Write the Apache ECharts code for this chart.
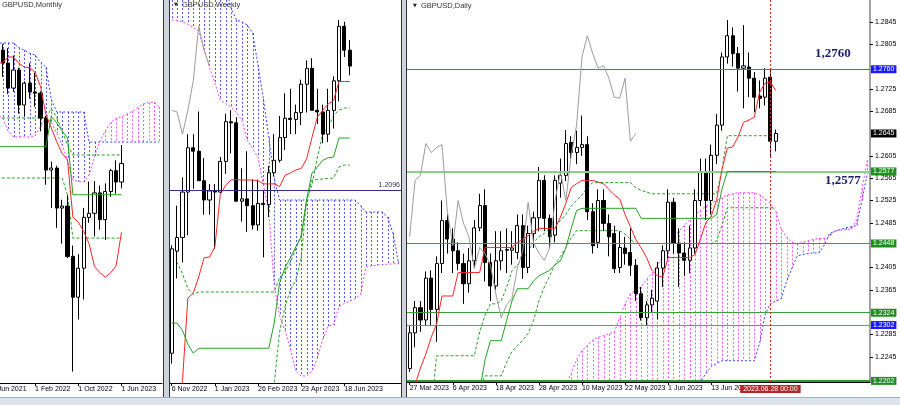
<!DOCTYPE html>
<html><head><meta charset="utf-8">
<script src="https://cdn.jsdelivr.net/npm/echarts@6/dist/echarts.min.js"></script>
<style>html,body{margin:0;padding:0;background:#fff;overflow:hidden}#c{width:900px;height:405px}</style>
</head><body><div id="c"></div>
<script>
// ---------------- MONTHLY ----------------
const mCat = ['2021-06','2021-07','2021-08','2021-09','2021-10','2021-11','2021-12','2022-01','2022-02','2022-03','2022-04','2022-05','2022-06','2022-07','2022-08','2022-09','2022-10','2022-11','2022-12','2023-01','2023-02','2023-03','2023-04','2023-05','2023-06','2023-07','2023-08','2023-09','2023-10','2023-11','2023-12','2024-01'];
const mTickLabels = {0:'1 Jun 2021', 8:'1 Feb 2022', 16:'1 Oct 2022', 24:'1 Jun 2023'};
const mOHLC = [
 [1.4150,1.3830,1.3785,1.4250],[1.3830,1.3900,1.3570,1.3985],[1.3895,1.3752,1.3600,1.3960],[1.3752,1.3476,1.3410,1.3915],
 [1.3476,1.3675,1.3435,1.3835],[1.3675,1.3289,1.3195,1.3700],[1.3289,1.3530,1.3160,1.3550],[1.3530,1.3432,1.3360,1.3750],
 [1.3432,1.3420,1.3270,1.3645],[1.3420,1.3146,1.3000,1.3440],[1.3146,1.2572,1.2410,1.3170],[1.2572,1.2594,1.2155,1.2665],
 [1.2594,1.2153,1.1935,1.2620],[1.2153,1.2175,1.1760,1.2245],[1.2175,1.1620,1.1600,1.2295],[1.1620,1.1170,1.0350,1.1740],
 [1.1170,1.1490,1.0925,1.1645],[1.1490,1.2050,1.1145,1.2155],[1.2050,1.2095,1.1990,1.2445],[1.2095,1.2320,1.1840,1.2450],
 [1.2320,1.2025,1.1915,1.2400],[1.2025,1.2335,1.1800,1.2425],[1.2335,1.2565,1.2275,1.2585],[1.2565,1.2440,1.2310,1.2680],
 [1.2440,1.2645,1.2370,1.2848]];
const mTenkan = [1.3720,1.3740,1.3760,1.3818,1.3818,1.3750,1.3708,1.3700,1.3650,1.3493,1.3185,1.3035,1.2885,1.2755,1.2683,1.2050,1.1998,1.1895,1.1760,1.1508,1.1440,1.1390,1.1440,1.1515,1.1887];
const mKijun = [1.2830,1.2830,1.2830,1.2830,1.2830,1.2830,1.2830,1.2830,1.2830,1.2830,1.2830,1.3163,1.3093,1.3005,1.2925,1.2300,1.2300,1.2300,1.2300,1.2300,1.2300,1.2300,1.2300,1.2300,1.2300];
const mSpanA = [1.3200,1.3180,1.3146,1.3000,1.2936,1.2936,1.2936,1.2936,1.2950,1.3050,1.3146,1.3100,1.2980,1.2848,1.2683,1.2462,1.2445,1.2440,1.2520,1.2720,1.2890,1.3000,1.3100,1.3140,1.3160,1.3190,1.3220,1.3260,1.3300,1.3315,1.3322,1.3267];
const mSpanB = [1.3973,1.3973,1.3973,1.3973,1.3973,1.3920,1.3895,1.3860,1.3840,1.3760,1.3708,1.3350,1.3212,1.3212,1.3212,1.3212,1.3212,1.3212,1.2881,1.2881,1.2881,1.2881,1.2881,1.2881,1.2881,1.2881,1.2881,1.2881,1.2881,1.2881,1.2881,1.2881];
const mDash1 = [1.3146,1.3146,1.3146,1.3146,1.3146,1.3146,1.3146,1.3146,1.3146,1.3146,1.3146,1.3250,1.3150,1.3000,1.2850,1.2738,1.2738,1.2738,1.2738,1.2738,1.2738,1.2738,1.2738,1.2738,1.2738];
const mDash2 = [1.2484,1.2484,1.2484,1.2484,1.2484,1.2484,1.2484,1.2484,1.2484,1.2484,1.2484,1.2484,1.2484,1.2484,1.2300,1.1822,1.1822,1.1822,1.1822,1.1822,1.1822,1.1822,1.1822,1.1822,1.1822];

// ---------------- WEEKLY ----------------
const wCat = ['2022-11-06','2022-11-13','2022-11-20','2022-11-27','2022-12-04','2022-12-11','2022-12-18','2022-12-25','2023-01-01','2023-01-08','2023-01-15','2023-01-22','2023-01-29','2023-02-05','2023-02-12','2023-02-19','2023-02-26','2023-03-05','2023-03-12','2023-03-19','2023-03-26','2023-04-02','2023-04-09','2023-04-16','2023-04-23','2023-04-30','2023-05-07','2023-05-14','2023-05-21','2023-05-28','2023-06-04','2023-06-11','2023-06-18','2023-06-25','2023-07-02','2023-07-09','2023-07-16','2023-07-23','2023-07-30','2023-08-06','2023-08-13','2023-08-20','2023-08-27'];
const wTickLabels = {0:'6 Nov 2022', 8:'1 Jan 2023', 16:'26 Feb 2023', 24:'23 Apr 2023', 32:'18 Jun 2023'};
const wOHLC = [
 [1.1380,1.1840,1.1335,1.1855],[1.1830,1.1890,1.1710,1.2030],[1.1890,1.2090,1.1780,1.2155],[1.2090,1.2285,1.1900,1.2345],
 [1.2285,1.2270,1.2105,1.2345],[1.2270,1.2140,1.2140,1.2445],[1.2140,1.2055,1.1990,1.2240],[1.2055,1.2095,1.1990,1.2125],
 [1.2095,1.2090,1.1840,1.2125],[1.2090,1.2225,1.2085,1.2245],[1.2225,1.2400,1.2170,1.2435],[1.2400,1.2395,1.2260,1.2450],
 [1.2395,1.2050,1.2050,1.2420],[1.2050,1.2060,1.1960,1.2195],[1.2060,1.2030,1.1915,1.2270],[1.2030,1.1945,1.1925,1.2145],
 [1.1945,1.2040,1.1920,1.2145],[1.2040,1.2035,1.1802,1.2095],[1.2035,1.2175,1.1980,1.2205],[1.2175,1.2230,1.2160,1.2345],
 [1.2230,1.2330,1.2220,1.2425],[1.2330,1.2415,1.2275,1.2525],[1.2415,1.2410,1.2345,1.2545],[1.2410,1.2440,1.2345,1.2475],
 [1.2440,1.2565,1.2385,1.2585],[1.2565,1.2635,1.2440,1.2670],[1.2635,1.2450,1.2450,1.2680],[1.2450,1.2443,1.2390,1.2545],
 [1.2443,1.2345,1.2305,1.2475],[1.2345,1.2450,1.2310,1.2545],[1.2450,1.2580,1.2370,1.2600],[1.2580,1.2820,1.2490,1.2848],
 [1.2820,1.2715,1.2685,1.2840],[1.2715,1.2645,1.2604,1.2760]];
const wTenkan = [null,1.1000,1.1260,1.1623,1.1645,1.1716,1.1800,1.1804,1.1848,1.2078,1.2120,1.2143,1.2145,1.2143,1.2143,1.2143,1.2140,1.2126,1.2126,1.2126,1.2114,1.2164,1.2174,1.2187,1.2194,1.2236,1.2330,1.2420,1.2450,1.2478,1.2493,1.2577,1.2577,1.2577];
const wKijun = [1.1513,1.1513,1.1480,1.1420,1.1380,1.1402,1.1402,1.1402,1.1402,1.1402,1.1402,1.1402,1.1402,1.1402,1.1402,1.1402,1.1402,1.1402,1.1402,1.1513,1.1691,1.1757,1.1800,1.1848,1.1892,1.2055,1.2174,1.2200,1.2230,1.2241,1.2244,1.2328,1.2328,1.2328];
const wChikou = [1.2450,1.2443,1.2345,1.2450,1.2580,1.2820,1.2715,1.2645];
const wSpanA = [1.2848,1.2845,1.2840,1.2830,1.2815,1.2800,1.2720,1.2640,1.2570,1.2496,1.2480,1.2465,1.2440,1.2407,1.2320,1.2280,1.2244,1.2120,1.2000,1.1680,1.1545,1.1480,1.1400,1.1300,1.1280,1.1280,1.1300,1.1360,1.1440,1.1500,1.1505,1.1585,1.1600,1.1610,1.1620,1.1640,1.1760,1.1765,1.1768,1.1770,1.1772,1.1774,1.1774];
const wSpanB = [1.3000,1.3000,1.3000,1.3000,1.3000,1.3000,1.3000,1.3000,1.3000,1.3000,1.3000,1.2900,1.2848,1.2840,1.2826,1.2790,1.2650,1.2500,1.2330,1.2150,1.2055,1.2055,1.2055,1.2055,1.2055,1.2055,1.2055,1.2055,1.2055,1.2055,1.2055,1.2055,1.2055,1.2055,1.2055,1.2030,1.2002,1.2002,1.2002,1.2002,1.1980,1.1910,1.1783];
const wDash1 = [1.1791,1.1780,1.1730,1.1665,1.1640,1.1650,1.1650,1.1650,1.1650,1.1650,1.1650,1.1650,1.1650,1.1650,1.1650,1.1650,1.1650,1.1650,1.1650,1.1650,1.1715,1.1738,1.1780,1.1840,1.1900,1.2055,1.2120,1.2244,1.2346,1.2374,1.2426,1.2451,1.2460,1.2460];
const wDash2 = [null,null,null,null,null,null,null,null,null,null,null,null,null,null,null,null,null,null,1.1100,1.1245,1.1474,1.1584,1.1659,1.1700,1.1800,1.2055,1.2143,1.2145,1.2148,1.2150,1.2152,1.2200,1.2209,1.2209];
const wLevel = 1.2096;

// ---------------- DAILY ----------------
const dCat = ['03-27','03-28','03-29','03-30','03-31','04-03','04-04','04-05','04-06','04-07','04-10','04-11','04-12','04-13','04-14','04-17','04-18','04-19','04-20','04-21','04-24','04-25','04-26','04-27','04-28','05-01','05-02','05-03','05-04','05-05','05-08','05-09','05-10','05-11','05-12','05-15','05-16','05-17','05-18','05-19','05-22','05-23','05-24','05-25','05-26','05-29','05-30','05-31','06-01','06-02','06-05','06-06','06-07','06-08','06-09','06-12','06-13','06-14','06-15','06-16','06-19','06-20','06-21','06-22','06-23','06-26','06-27','06-28','06-29','06-30','07-03','07-04','07-05','07-06','07-07','07-10','07-11','07-12','07-13','07-14','07-17','07-18','07-19','07-20','07-21','07-24'];
const dTickLabels = {0:'27 Mar 2023', 8:'6 Apr 2023', 16:'18 Apr 2023', 24:'28 Apr 2023', 32:'10 May 2023', 40:'22 May 2023', 48:'1 Jun 2023', 56:'13 Jun 2023'};
const dPriceTicks = [1.2845,1.2805,1.2725,1.2685,1.2605,1.2565,1.2525,1.2485,1.2405,1.2365,1.2285,1.2245];
const dOHLC = [
 [1.2224,1.2288,1.2218,1.2300],[1.2288,1.2333,1.2262,1.2345],[1.2333,1.2311,1.2290,1.2345],[1.2311,1.2386,1.2300,1.2398],
 [1.2386,1.2330,1.2300,1.2400],[1.2330,1.2412,1.2272,1.2425],[1.2412,1.2489,1.2395,1.2525],[1.2489,1.2456,1.2430,1.2500],
 [1.2456,1.2435,1.2395,1.2475],[1.2435,1.2412,1.2400,1.2450],[1.2412,1.2376,1.2340,1.2430],[1.2376,1.2417,1.2360,1.2440],
 [1.2417,1.2476,1.2405,1.2490],[1.2476,1.2516,1.2470,1.2537],[1.2516,1.2414,1.2380,1.2545],[1.2414,1.2372,1.2345,1.2430],
 [1.2372,1.2417,1.2365,1.2470],[1.2417,1.2435,1.2400,1.2470],[1.2437,1.2436,1.2395,1.2475],[1.2436,1.2440,1.2410,1.2470],
 [1.2432,1.2480,1.2420,1.2500],[1.2480,1.2405,1.2385,1.2500],[1.2405,1.2466,1.2395,1.2480],[1.2466,1.2494,1.2440,1.2505],
 [1.2494,1.2561,1.2470,1.2585],[1.2561,1.2493,1.2470,1.2570],[1.2493,1.2460,1.2440,1.2500],[1.2463,1.2561,1.2450,1.2570],
 [1.2556,1.2570,1.2530,1.2600],[1.2570,1.2627,1.2560,1.2651],[1.2629,1.2611,1.2600,1.2640],[1.2611,1.2620,1.2590,1.2650],
 [1.2620,1.2625,1.2605,1.2677],[1.2625,1.2505,1.2490,1.2640],[1.2505,1.2444,1.2430,1.2520],[1.2450,1.2525,1.2440,1.2545],
 [1.2525,1.2484,1.2470,1.2545],[1.2484,1.2460,1.2425,1.2500],[1.2466,1.2403,1.2395,1.2480],[1.2405,1.2441,1.2395,1.2470],
 [1.2440,1.2430,1.2410,1.2460],[1.2432,1.2409,1.2390,1.2475],[1.2409,1.2358,1.2345,1.2420],[1.2358,1.2315,1.2310,1.2370],
 [1.2315,1.2338,1.2300,1.2345],[1.2338,1.2350,1.2325,1.2365],[1.2345,1.2404,1.2312,1.2415],[1.2404,1.2435,1.2370,1.2445],
 [1.2435,1.2522,1.2420,1.2545],[1.2522,1.2449,1.2430,1.2530],[1.2449,1.2431,1.2370,1.2475],[1.2431,1.2418,1.2390,1.2450],
 [1.2418,1.2440,1.2395,1.2480],[1.2440,1.2525,1.2430,1.2545],[1.2525,1.2576,1.2515,1.2600],[1.2576,1.2525,1.2490,1.2600],
 [1.2525,1.2606,1.2500,1.2625],[1.2606,1.2660,1.2590,1.2680],[1.2660,1.2782,1.2650,1.2790],[1.2782,1.2820,1.2770,1.2848],
 [1.2820,1.2788,1.2765,1.2835],[1.2788,1.2762,1.2720,1.2800],[1.2762,1.2766,1.2690,1.2839],[1.2764,1.2744,1.2710,1.2790],
 [1.2744,1.2710,1.2683,1.2755],[1.2712,1.2708,1.2690,1.2740],[1.2710,1.2744,1.2695,1.2762],[1.2746,1.2631,1.2604,1.2760],
 [1.2631,1.2645,1.2613,1.2652]];
const dTenkan = [1.2170,1.2195,1.2225,1.2250,1.2280,1.2304,1.2354,1.2354,1.2354,1.2396,1.2396,1.2396,1.2396,1.2396,1.2441,1.2441,1.2441,1.2441,1.2441,1.2441,1.2450,1.2455,1.2462,1.2470,1.2475,1.2475,1.2475,1.2475,1.2495,1.2520,1.2548,1.2555,1.2561,1.2561,1.2561,1.2558,1.2555,1.2545,1.2535,1.2528,1.2500,1.2478,1.2455,1.2440,1.2423,1.2400,1.2390,1.2388,1.2423,1.2423,1.2423,1.2423,1.2423,1.2428,1.2456,1.2485,1.2497,1.2525,1.2580,1.2619,1.2621,1.2639,1.2665,1.2669,1.2674,1.2719,1.2735,1.2737,1.2722];
const dKijun = [1.2150,1.2150,1.2150,1.2150,1.2150,1.2150,1.2150,1.2150,1.2150,1.2150,1.2150,1.2150,1.2150,1.2185,1.2240,1.2274,1.2274,1.2274,1.2310,1.2345,1.2367,1.2367,1.2367,1.2381,1.2390,1.2395,1.2400,1.2410,1.2417,1.2440,1.2475,1.2507,1.2511,1.2511,1.2511,1.2511,1.2511,1.2511,1.2511,1.2511,1.2511,1.2511,1.2511,1.2493,1.2493,1.2493,1.2493,1.2493,1.2493,1.2493,1.2493,1.2493,1.2493,1.2493,1.2493,1.2493,1.2493,1.2500,1.2545,1.2577,1.2577,1.2577,1.2577,1.2577,1.2577,1.2577,1.2577,1.2577,1.2577];
const dChikou = [1.2460,1.2561,1.2570,1.2627,1.2611,1.2620,1.2625,1.2505,1.2444,1.2525,1.2484,1.2460,1.2403,1.2441,1.2430,1.2409,1.2358,1.2315,1.2338,1.2350,1.2404,1.2435,1.2522,1.2449,1.2431,1.2418,1.2440,1.2525,1.2576,1.2525,1.2606,1.2660,1.2782,1.2820,1.2788,1.2762,1.2766,1.2744,1.2710,1.2708,1.2744,1.2631,1.2645];
const dSpanA = [1.2150,1.2150,1.2150,1.2150,1.2150,1.2150,1.2150,1.2150,1.2150,1.2150,1.2150,1.2150,1.2150,1.2150,1.2150,1.2150,1.2150,1.2150,1.2150,1.2150,1.2150,1.2150,1.2150,1.2150,1.2150,1.2150,1.2150,1.2150,1.2150,1.2195,1.2215,1.2240,1.2256,1.2265,1.2275,1.2280,1.2283,1.2286,1.2290,1.2315,1.2340,1.2358,1.2365,1.2370,1.2385,1.2394,1.2408,1.2425,1.2447,1.2460,1.2470,1.2480,1.2490,1.2500,1.2507,1.2515,1.2520,1.2525,1.2530,1.2535,1.2537,1.2539,1.2539,1.2539,1.2539,1.2535,1.2528,1.2520,1.2505,1.2475,1.2459,1.2450,1.2447,1.2450,1.2453,1.2455,1.2457,1.2457,1.2460,1.2471,1.2472,1.2473,1.2474,1.2490,1.2545,1.2597];
const dSpanB = [1.2150,1.2150,1.2150,1.2150,1.2150,1.2150,1.2150,1.2150,1.2150,1.2150,1.2150,1.2150,1.2150,1.2150,1.2150,1.2150,1.2150,1.2150,1.2150,1.2150,1.2150,1.2150,1.2150,1.2150,1.2150,1.2150,1.2150,1.2150,1.2150,1.2150,1.2150,1.2150,1.2150,1.2150,1.2150,1.2150,1.2150,1.2150,1.2150,1.2150,1.2150,1.2150,1.2150,1.2150,1.2150,1.2150,1.2150,1.2150,1.2150,1.2150,1.2150,1.2150,1.2150,1.2150,1.2200,1.2215,1.2228,1.2233,1.2238,1.2238,1.2238,1.2238,1.2238,1.2238,1.2238,1.2270,1.2320,1.2340,1.2345,1.2349,1.2380,1.2404,1.2426,1.2428,1.2430,1.2431,1.2431,1.2445,1.2466,1.2470,1.2473,1.2476,1.2478,1.2480,1.2525,1.2573];
const dDashA = [1.2150,1.2150,1.2150,1.2150,1.2150,1.2247,1.2247,1.2247,1.2247,1.2247,1.2247,1.2247,1.2247,1.2290,1.2320,1.2340,1.2340,1.2345,1.2370,1.2399,1.2410,1.2420,1.2435,1.2450,1.2460,1.2466,1.2475,1.2480,1.2489,1.2500,1.2515,1.2525,1.2535,1.2548,1.2557,1.2557,1.2557,1.2557,1.2557,1.2557,1.2557,1.2557,1.2548,1.2543,1.2540,1.2537,1.2537,1.2537,1.2537,1.2537,1.2537,1.2537,1.2537,1.2537,1.2537,1.2537,1.2537,1.2537,1.2580,1.2641,1.2641,1.2641,1.2641,1.2641,1.2641,1.2641,1.2641,1.2641,1.2641];
const dDashB = [1.2150,1.2150,1.2150,1.2150,1.2150,1.2150,1.2150,1.2150,1.2150,1.2150,1.2150,1.2150,1.2150,1.2190,1.2211,1.2211,1.2211,1.2211,1.2235,1.2255,1.2265,1.2275,1.2287,1.2310,1.2345,1.2370,1.2390,1.2410,1.2425,1.2440,1.2458,1.2471,1.2471,1.2471,1.2471,1.2471,1.2471,1.2471,1.2471,1.2471,1.2465,1.2455,1.2448,1.2448,1.2448,1.2448,1.2448,1.2448,1.2448,1.2448,1.2448,1.2448,1.2448,1.2448,1.2448,1.2448,1.2448,1.2453,1.2480,1.2512,1.2512,1.2512,1.2512,1.2512,1.2512,1.2512,1.2512,1.2512,1.2512];
const dLevels = [
  {v:1.2760, line:'#5a5aff', box:'#1a1aff', w:1},
  {v:1.2577, line:'#8ccf8c', box:'#1f8f1f', w:2},
  {v:1.2448, line:'#3a9e3a', box:'#1f8f1f', w:1},
  {v:1.2324, line:'#3a9e3a', box:'#1f8f1f', w:1},
  {v:1.2302, line:'#7878ff', box:'#1a1aff', w:1},
  {v:1.2202, line:'#2e962e', box:'#1f8f1f', w:2}
];
const dBid = 1.2645;
const dCursor = '06-28';

// ---------------- BUILD ----------------
const FONT = 'Liberation Sans';
const RED = '#f52525', GREEN = '#25a025', GRAY = '#9c9c9c', MAG = '#ff3cff', BLU = '#3c3cff';

function line(gi, data, color, type, z, width){
  return {type:'line', xAxisIndex:gi, yAxisIndex:gi, data:data, symbol:'none', showSymbol:false, silent:true,
    animation:false, z:z||4, clip:true, lineStyle:{color:color, width:width||1, type:type||'solid'}};
}
function candles(gi, data, bw){
  return {type:'candlestick', xAxisIndex:gi, yAxisIndex:gi, data:data, barWidth:bw, silent:true,
    animation:false, z:3, clip:true,
    itemStyle:{color:'#ffffff', color0:'#000000', borderColor:'#000000', borderColor0:'#000000', borderWidth:1}};
}
function hatch(gi, A, B){
  const d = [];
  for (let i = 0; i < Math.min(A.length, B.length); i++) if (A[i] != null && B[i] != null) d.push([i, A[i], B[i]]);
  return {type:'custom', xAxisIndex:gi, yAxisIndex:gi, data:d, silent:true, animation:false, z:1,
    encode:{x:0, y:[1,2]},
    renderItem:function(params, api){
      const i = api.value(0), a = api.value(1), b = api.value(2);
      const pa = api.coord([i, a]), pb = api.coord([i, b]);
      const cs = params.coordSys;
      let y1 = Math.min(pa[1], pb[1]), y2 = Math.max(pa[1], pb[1]);
      y1 = Math.max(y1, cs.y); y2 = Math.min(y2, cs.y + cs.height);
      if (y2 - y1 < 1) return null;
      const x = Math.round(pa[0]) + 0.5;
      return {type:'line', shape:{x1:x, y1:y1, x2:x, y2:y2},
        style:{stroke: a > b ? '#ff55ff' : '#5555ff', lineWidth:1, lineDash:[2,2]}};
    }};
}
function xAxisFor(gi, cats, labels){
  const fn = function(idx){ return labels[idx] !== undefined; };
  return {gridIndex:gi, type:'category', data:cats, boundaryGap:true,
    axisLine:{show:true, lineStyle:{color:'#000', width:1}},
    axisTick:{show:true, alignWithLabel:true, interval:fn, length:3, lineStyle:{color:'#000'}},
    axisLabel:{show:true, interval:fn, formatter:function(v, idx){ return labels[idx] || ''; },
      align:'left', fontSize:7, fontFamily:FONT, color:'#000', margin:3, hideOverlap:false},
    splitLine:{show:false}};
}
function markHolder(gi, mark){
  return {type:'line', xAxisIndex:gi, yAxisIndex:gi, data:[], symbol:'none', silent:true, animation:false, z:2, markLine:mark};
}

const dMark = {symbol:['none','none'], silent:true, animation:false, precision:4,
  data: dLevels.map(function(l){ return {yAxis:l.v, lineStyle:{color:l.line, width:l.w, type:'solid', opacity:1},
      label:{show:true, position:'end', distance:1, formatter:l.v.toFixed(4), color:'#fff', backgroundColor:l.box,
        padding:[1,2,0,2], fontSize:7, fontFamily:FONT}}; })
    .concat([
      {yAxis:dBid, lineStyle:{color:'rgba(0,0,0,0)', width:0},
        label:{show:true, position:'end', distance:1, formatter:dBid.toFixed(4), color:'#fff', backgroundColor:'#000',
          padding:[1,2,0,2], fontSize:7, fontFamily:FONT}},
      {xAxis:dCursor, lineStyle:{color:'#d22', width:1, type:[2,2]},
        label:{show:true, position:'start', distance:3, formatter:'2023.06.28 00:00', color:'#fff', backgroundColor:'#b02828',
          padding:[1,3,0,3], fontSize:7, fontFamily:FONT}}
    ])
};
const wMark = {symbol:['none','none'], silent:true, animation:false,
  data:[{yAxis:wLevel, lineStyle:{color:'#2d2d8c', width:1, type:'solid'},
    label:{show:true, position:'insideEndTop', distance:1, formatter:wLevel.toFixed(4), color:'#333', fontSize:7, fontFamily:FONT}}]};

const option = {
  animation:false,
  backgroundColor:'#ffffff',
  grid:[
    {left:-10.8, top:0, width:172.8, height:383, outerBoundsMode:'none', containLabel:false},
    {left:169, top:0, width:232, height:383, outerBoundsMode:'none', containLabel:false},
    {left:407, top:0, width:463, height:382, outerBoundsMode:'none', containLabel:false}
  ],
  xAxis:[ xAxisFor(0, mCat, mTickLabels), xAxisFor(1, wCat, wTickLabels), xAxisFor(2, dCat, dTickLabels) ],
  yAxis:[
    {gridIndex:0, type:'value', min:1.0224, max:1.4447, show:false, splitLine:{show:false}},
    {gridIndex:1, type:'value', min:1.1249, max:1.2936, show:false, splitLine:{show:false}},
    {gridIndex:2, type:'value', min:1.2200, max:1.2884, position:'right', splitLine:{show:false},
      axisLine:{show:true, lineStyle:{color:'#a0a0a0', width:2}},
      axisTick:{show:true, length:3, customValues:dPriceTicks, lineStyle:{color:'#000'}},
      axisLabel:{show:true, customValues:dPriceTicks, formatter:function(v){ return v.toFixed(4); },
        fontSize:7, fontFamily:FONT, color:'#000', margin:5}}
  ],
  series:[
    // monthly
    hatch(0, mSpanA, mSpanB),
    line(0, mSpanA, MAG, [2,2], 2), line(0, mSpanB, BLU, [2,2], 2),
    line(0, mDash1, GREEN, [3,2], 2), line(0, mDash2, GREEN, [3,2], 2),
    candles(0, mOHLC, 3.6),
    line(0, mTenkan, RED, 'solid', 5), line(0, mKijun, GREEN, 'solid', 5),
    // weekly
    hatch(1, wSpanA, wSpanB),
    line(1, wSpanA, MAG, [2,2], 2), line(1, wSpanB, BLU, [2,2], 2),
    line(1, wDash1, GREEN, [3,2], 2), line(1, wDash2, GREEN, [3,2], 2),
    markHolder(1, wMark),
    candles(1, wOHLC, 3.6),
    line(1, wTenkan, RED, 'solid', 5), line(1, wKijun, GREEN, 'solid', 5), line(1, wChikou, GRAY, 'solid', 5),
    // daily
    hatch(2, dSpanA, dSpanB),
    line(2, dSpanA, MAG, [2,2], 2), line(2, dSpanB, BLU, [2,2], 2),
    line(2, dDashA, GREEN, [3,2], 2), line(2, dDashB, GREEN, [3,2], 2),
    markHolder(2, dMark),
    candles(2, dOHLC, 3.6),
    line(2, dTenkan, RED, 'solid', 5), line(2, dKijun, GREEN, 'solid', 5), line(2, dChikou, GRAY, 'solid', 5)
  ],
  graphic:[
    {type:'rect', z:100, shape:{x:163, y:0, width:7, height:397}, style:{fill:'#cdd4dd'}},
    {type:'line', z:101, shape:{x1:163.5, y1:0, x2:163.5, y2:397}, style:{stroke:'#333', lineWidth:1}},
    {type:'line', z:101, shape:{x1:169.5, y1:0, x2:169.5, y2:397}, style:{stroke:'#333', lineWidth:1}},
    {type:'rect', z:100, shape:{x:401, y:0, width:6, height:397}, style:{fill:'#cdd4dd'}},
    {type:'line', z:101, shape:{x1:401.5, y1:0, x2:401.5, y2:397}, style:{stroke:'#333', lineWidth:1}},
    {type:'line', z:101, shape:{x1:406.5, y1:0, x2:406.5, y2:397}, style:{stroke:'#333', lineWidth:1}},
    {type:'rect', z:100, shape:{x:0, y:397, width:900, height:8}, style:{fill:'#dde3ea'}},
    {type:'line', z:101, shape:{x1:0, y1:397.5, x2:900, y2:397.5}, style:{stroke:'#9fb0c4', lineWidth:1}},
    {type:'text', z:102, left:2, top:1, style:{text:'GBPUSD,Monthly', fontSize:7.5, fontFamily:FONT, fill:'#333'}},
    {type:'text', z:102, left:174, top:2, style:{text:'\u25BC', fontSize:5, fontFamily:'DejaVu Sans', fill:'#222'}},
    {type:'text', z:102, left:182, top:1, style:{text:'GBPUSD,Weekly', fontSize:7.5, fontFamily:FONT, fill:'#333'}},
    {type:'text', z:102, left:413, top:3, style:{text:'\u25BC', fontSize:5, fontFamily:'DejaVu Sans', fill:'#222'}},
    {type:'text', z:102, left:421, top:2, style:{text:'GBPUSD,Daily', fontSize:7.5, fontFamily:FONT, fill:'#333'}},
    {type:'text', z:102, left:815, top:47, style:{text:'1,2760', fontSize:13, fontWeight:'bold', fontFamily:'Liberation Serif', fill:'#1c1c6a'}},
    {type:'text', z:102, left:825, top:174, style:{text:'1,2577', fontSize:13, fontWeight:'bold', fontFamily:'Liberation Serif', fill:'#1c1c6a'}}
  ]
};
const chart = echarts.init(document.getElementById('c'), null, {renderer:'canvas', width:900, height:405});
chart.setOption(option);
</script></body></html>
